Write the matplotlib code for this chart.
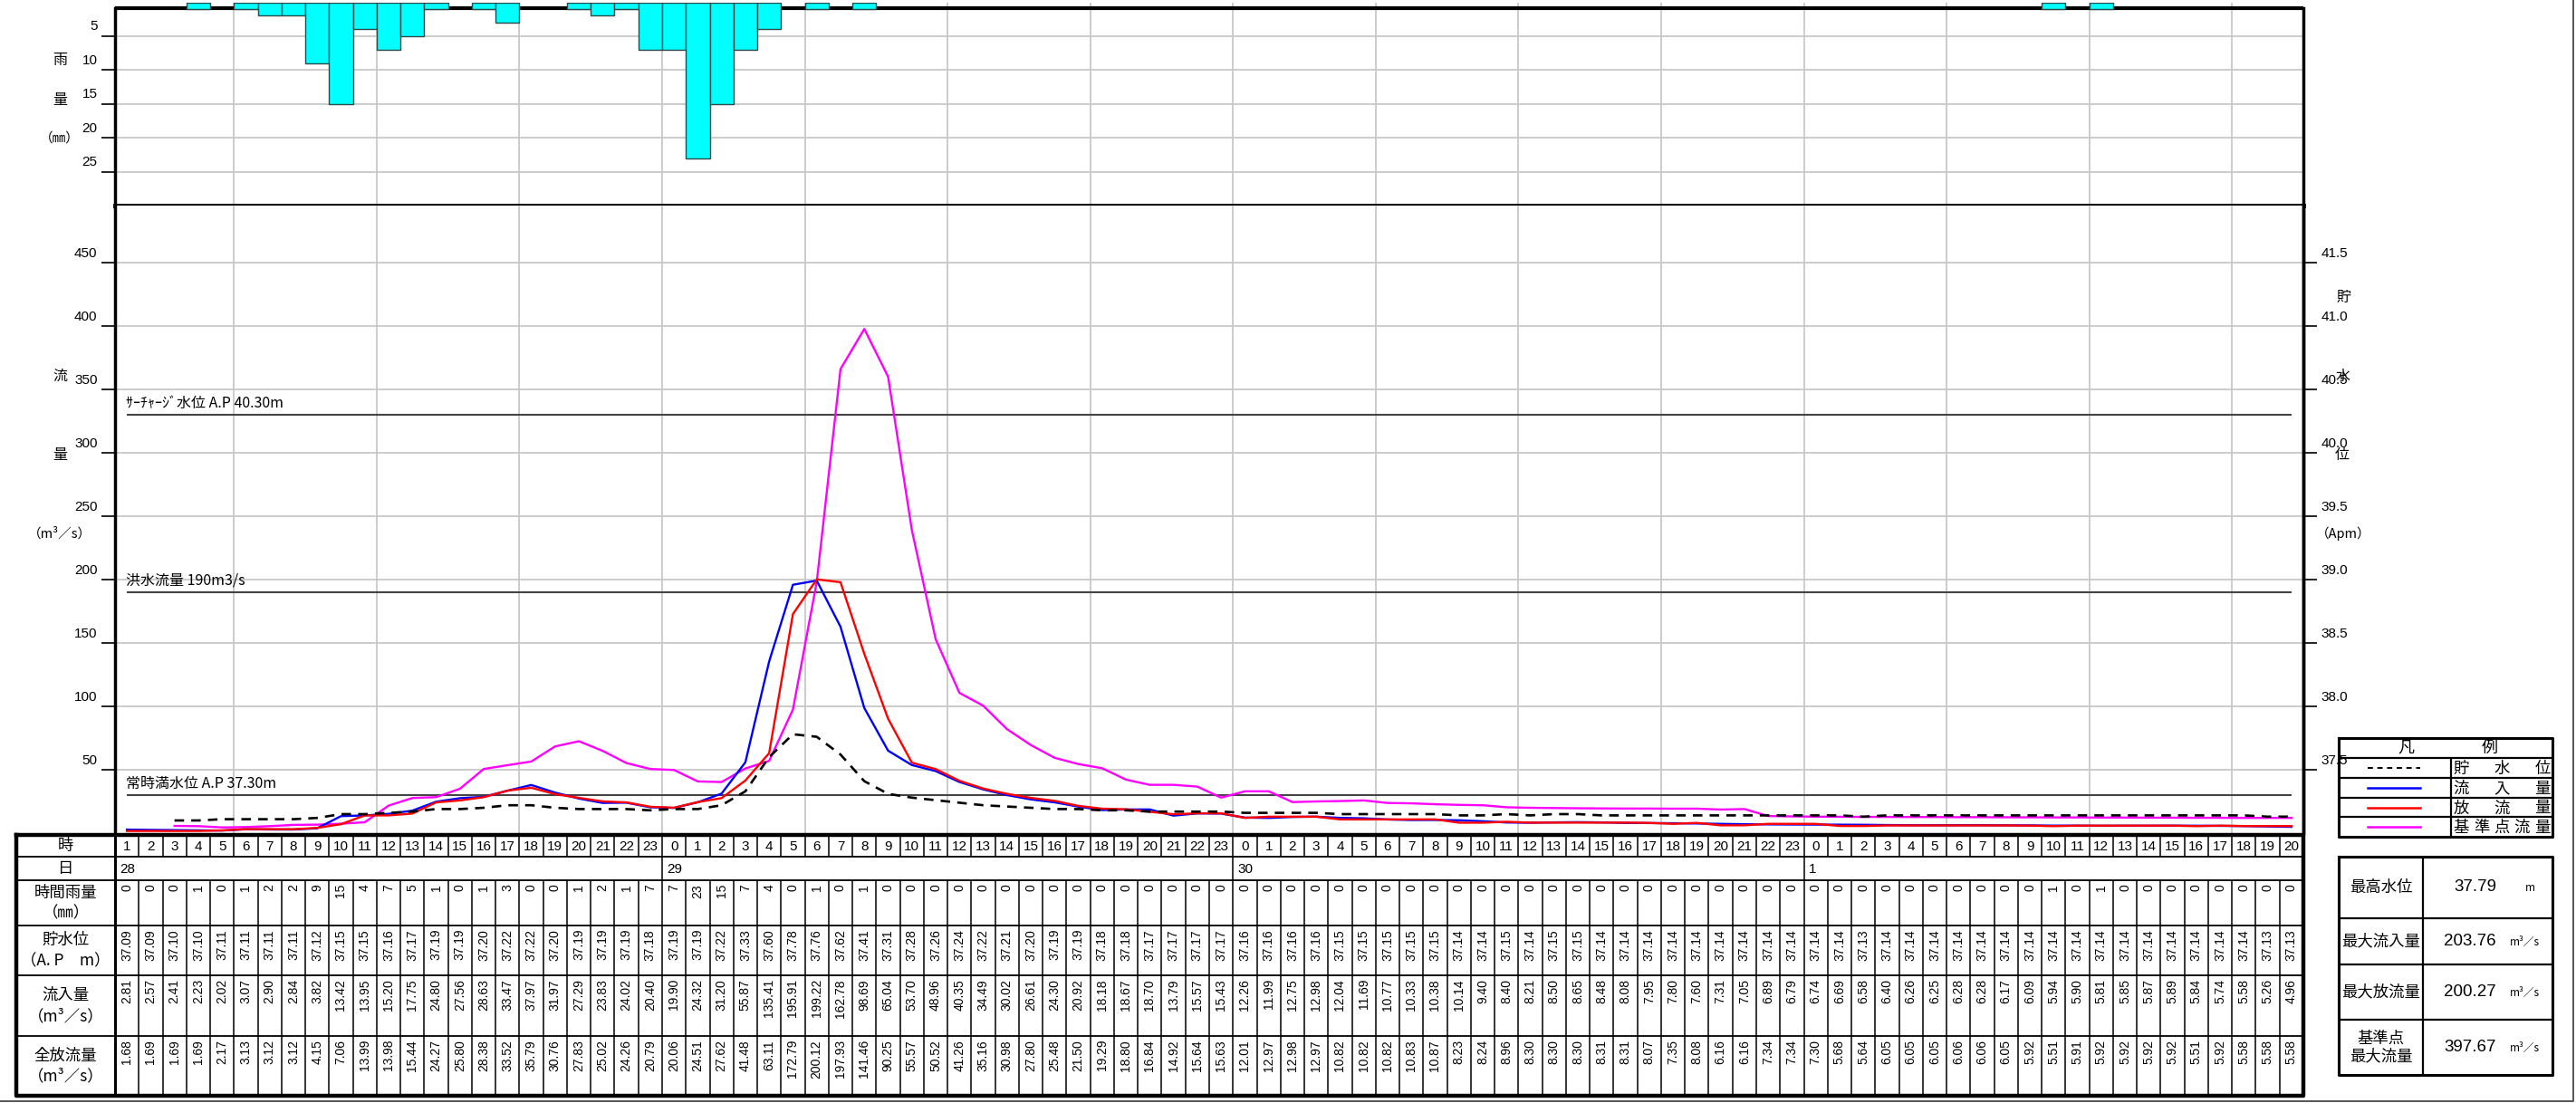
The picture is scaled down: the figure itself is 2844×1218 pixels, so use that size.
import matplotlib
matplotlib.use('Agg')
import matplotlib.pyplot as plt
import matplotlib.transforms as mtransforms
from matplotlib import font_manager
import numpy as np

# ---- data (hourly, 28th 1h .. 1st 20h) ----
hours = list(range(1, 24)) + list(range(24)) + list(range(24)) + list(range(21))
day_names = ['28', '29', '30', '1']
day_first_col = [0, 23, 47, 71]

rain = [0, 0, 0, 1, 0, 1, 2, 2, 9, 15, 4, 7, 5, 1, 0, 1, 3, 0, 0, 1, 2, 1, 7,
        7, 23, 15, 7, 4, 0, 1, 0, 1, 0, 0, 0, 0, 0, 0, 0, 0, 0, 0, 0, 0, 0, 0, 0,
        0, 0, 0, 0, 0, 0, 0, 0, 0, 0, 0, 0, 0, 0, 0, 0, 0, 0, 0, 0, 0, 0, 0, 0,
        0, 0, 0, 0, 0, 0, 0, 0, 0, 0, 1, 0, 1, 0, 0, 0, 0, 0, 0, 0, 0]

level = [37.09, 37.09, 37.10, 37.10, 37.11, 37.11, 37.11, 37.11, 37.12, 37.15, 37.15, 37.16,
         37.17, 37.19, 37.19, 37.20, 37.22, 37.22, 37.20, 37.19, 37.19, 37.19, 37.18,
         37.19, 37.19, 37.22, 37.33, 37.60, 37.78, 37.76, 37.62, 37.41, 37.31, 37.28, 37.26,
         37.24, 37.22, 37.21, 37.20, 37.19, 37.19, 37.18, 37.18, 37.17, 37.17, 37.17, 37.17,
         37.16, 37.16, 37.16, 37.16, 37.15, 37.15, 37.15, 37.15, 37.15, 37.14, 37.14, 37.15,
         37.14, 37.15, 37.15, 37.14, 37.14, 37.14, 37.14, 37.14, 37.14, 37.14, 37.14, 37.14,
         37.14, 37.14, 37.13, 37.14, 37.14, 37.14, 37.14, 37.14, 37.14, 37.14, 37.14, 37.14,
         37.14, 37.14, 37.14, 37.14, 37.14, 37.14, 37.14, 37.13, 37.13]

inflow = [2.81, 2.57, 2.41, 2.23, 2.02, 3.07, 2.90, 2.84, 3.82, 13.42, 13.95, 15.20,
          17.75, 24.80, 27.56, 28.63, 33.47, 37.97, 31.97, 27.29, 23.83, 24.02, 20.40,
          19.90, 24.32, 31.20, 55.87, 135.41, 195.91, 199.22, 162.78, 98.69, 65.04, 53.70, 48.96,
          40.35, 34.49, 30.02, 26.61, 24.30, 20.92, 18.18, 18.67, 18.70, 13.79, 15.57, 15.43,
          12.26, 11.99, 12.75, 12.98, 12.04, 11.69, 10.77, 10.33, 10.38, 10.14, 9.40, 8.40,
          8.21, 8.50, 8.65, 8.48, 8.08, 7.95, 7.80, 7.60, 7.31, 7.05, 6.89, 6.79,
          6.74, 6.69, 6.58, 6.40, 6.26, 6.25, 6.28, 6.28, 6.17, 6.09, 5.94, 5.90,
          5.81, 5.85, 5.87, 5.89, 5.84, 5.74, 5.58, 5.26, 4.96]

outflow = [1.68, 1.69, 1.69, 1.69, 2.17, 3.13, 3.12, 3.12, 4.15, 7.06, 13.99, 13.98,
           15.44, 24.27, 25.80, 28.38, 33.52, 35.79, 30.76, 27.83, 25.02, 24.26, 20.79,
           20.06, 24.51, 27.62, 41.48, 63.11, 172.79, 200.12, 197.93, 141.46, 90.25, 55.57, 50.52,
           41.26, 35.16, 30.98, 27.80, 25.48, 21.50, 19.29, 18.80, 16.84, 14.92, 15.64, 15.63,
           12.01, 12.97, 12.98, 12.97, 10.82, 10.82, 10.82, 10.83, 10.87, 8.23, 8.24, 8.96,
           8.30, 8.30, 8.30, 8.31, 8.31, 8.07, 7.35, 8.08, 6.16, 6.16, 7.34, 7.34,
           7.30, 5.68, 5.64, 6.05, 6.05, 6.05, 6.06, 6.06, 6.05, 5.92, 5.51, 5.91,
           5.92, 5.92, 5.92, 5.92, 5.51, 5.92, 5.58, 5.58, 5.58]

# 基準点流量 (read from the chart, not in the table)
base_flow = [np.nan, np.nan,
             5.7, 5.5, 4.5, 4.8, 5.5, 6.5, 6.7, 7.4, 8.6, 21.7, 27.7, 28.4, 35.0, 50.6, 53.6,
             56.5, 68.4, 72.5, 64.9, 55.3, 50.6,
             49.8, 40.8, 40.3, 51.0, 57.0, 97.5, 198.0, 366.0, 397.67, 360.0, 239.0, 153.0,
             110.6, 100.5, 82.0, 69.5, 59.4, 54.5, 51.2, 42.2, 38.1, 38.1, 36.7, 28.0,
             33.0, 33.0, 24.5, 25.0, 25.3, 25.8, 23.8, 23.5, 22.8, 22.3, 22.0, 20.4,
             20.0, 19.8, 19.6, 19.5, 19.4, 19.4, 19.3, 19.3, 18.6, 19.0, 13.5, 13.2,
             13.0, 12.9, 12.8, 12.8, 12.7, 12.7, 12.6, 12.6, 12.5, 12.5, 12.4, 12.4,
             12.3, 12.3, 12.2, 12.2, 12.1, 12.1, 12.0, 12.0, 12.0]

summary_labels = ['最高水位', '最大流入量', '最大放流量', '基準点\n最大流量']
summary_values = ['37.79', '203.76', '200.27', '397.67']
summary_units = ['m', 'm³／s', 'm³／s', 'm³／s']

legend_labels = ['貯水位', '流入量', '放流量', '基準点流量']

# ---- fonts ----
names = {f.name for f in font_manager.fontManager.ttflist}
JP = ['Noto Sans CJK JP', 'DejaVu Sans']
if 'Liberation Sans Narrow' in names:
    NARROW, nsize = ['Liberation Sans Narrow', 'DejaVu Sans'], 13
else:
    NARROW, nsize = ['Liberation Sans', 'DejaVu Sans'], 11
plt.rcParams['font.family'] = ['Liberation Sans', 'Noto Sans CJK JP', 'DejaVu Sans']

W, H = 2844, 1218
fig = plt.figure(figsize=(W / 100, H / 100), dpi=100)


def box(x0, y0, x1, y1):
    return [x0 / W, 1 - y1 / H, (x1 - x0) / W, (y1 - y0) / H]


X0, X1 = 127, 2543
n = len(hours)
xs = np.arange(n) + 0.5
grid_x = np.arange(5, n, 6)
GRID = '#c8c8c8'

# ---- rain panel ----
ax_r = fig.add_axes(box(X0, 2.5, X1, 227))
r = np.array(rain, dtype=float)
m = r > 0
ax_r.bar(xs[m], r[m], width=1.0, color='#00ffff', edgecolor='#2b4b4b', linewidth=1.0, zorder=4)
ax_r.axhline(0.9, color='black', lw=3, zorder=3)
ax_r.set_xlim(0, n)
ax_r.set_ylim(30, 0)
ax_r.set_xticks(grid_x)
ax_r.set_yticks([5, 10, 15, 20, 25])
ax_r.tick_params(axis='x', length=0, labelbottom=False)
ax_r.tick_params(axis='y', direction='out', length=11, width=1.2, pad=3)
ax_r.grid(True, color=GRID, lw=1.3)
ax_r.set_axisbelow(True)
ax_r.spines['top'].set_visible(False)
for s in ['left', 'right']:
    ax_r.spines[s].set_linewidth(2.5)
    ax_r.spines[s].set_bounds(30, 0.9)
ax_r.spines['bottom'].set_linewidth(3.5)
for lab in ax_r.get_yticklabels():
    lab.set_family(NARROW)
    lab.set_fontsize(nsize)

# ---- flow panel ----
ax_m = fig.add_axes(box(X0, 227, X1, 920))
ax_m.set_xlim(0, n)
ax_m.set_ylim(0, 495)
ax_m.set_xticks(grid_x)
ax_m.set_yticks(range(50, 451, 50))
ax_m.tick_params(axis='x', length=0, labelbottom=False)
ax_m.tick_params(axis='y', direction='out', length=11, width=1.2, pad=3)
ax_m.grid(True, color=GRID, lw=1.3)
ax_m.set_axisbelow(True)
for s in ['top', 'bottom']:
    ax_m.spines[s].set_visible(False)
for s in ['left', 'right']:
    ax_m.spines[s].set_linewidth(2.5)

ref_lines = [(330, 'ｻｰﾁｬｰｼﾞ水位 A.P 40.30m'), (190, '洪水流量 190m3/s'), (30, '常時満水位 A.P 37.30m')]
for val, txt in ref_lines:
    ax_m.hlines(val, xs[0], xs[-1], color='#444444', lw=1.5, zorder=2)
    ax_m.text(xs[0] - 0.05, val + 3, txt, ha='left', va='bottom', fontsize=11.5, family=JP)

ax_m.plot(xs, inflow, color='#0000ff', lw=1.7, zorder=4)
ax_m.plot(xs, outflow, color='#ff0000', lw=1.7, zorder=5)
ax_m.plot(xs, base_flow, color='#ff00ff', lw=1.7, zorder=3)
for lab in ax_m.get_yticklabels():
    lab.set_family(NARROW)
    lab.set_fontsize(nsize)

ax_w = ax_m.twinx()
ax_w.set_ylim(37.0, 37.0 + 4.95)
ax_w.set_yticks(np.arange(37.5, 41.51, 0.5))
ax_w.set_yticklabels(['%.1f' % v for v in np.arange(37.5, 41.51, 0.5)])
ax_w.tick_params(axis='y', direction='out', length=11, width=1.2, pad=3)
ax_w.plot(xs[2:], level[2:], color='black', lw=1.9, ls=(0, (4, 3)), zorder=6)
for s in ['top', 'bottom', 'left']:
    ax_w.spines[s].set_visible(False)
ax_w.spines['right'].set_linewidth(2.5)
for lab in ax_w.get_yticklabels():
    lab.set_family(NARROW)
    lab.set_fontsize(nsize)

# lift the tick labels above their tick marks
lift = mtransforms.ScaledTranslation(0, 0.12, fig.dpi_scale_trans)
for a in (ax_r, ax_m, ax_w):
    for lab in a.get_yticklabels():
        lab.set_transform(lab.get_transform() + lift)

# ---- data table ----
ax_t = fig.add_axes(box(X0, 921.5, X1, 1210))
rows = [921.5, 946, 972, 1022, 1077, 1144, 1210]
xl = -(X0 - 18) / ((X1 - X0) / n)
ax_t.set_xlim(0, n)
ax_t.set_ylim(rows[-1], rows[0])
ax_t.axis('off')
kw = dict(color='black', clip_on=False)
ax_t.hlines(rows[1:-1], xl, n, lw=1.3, **kw)
ax_t.vlines(np.arange(1, n), rows[0], rows[1], lw=1.1, **kw)
ax_t.vlines(np.arange(1, n), rows[2], rows[-1], lw=1.1, **kw)
ax_t.vlines(day_first_col[1:], rows[1], rows[2], lw=1.1, **kw)
ax_t.vlines(0, rows[0], rows[-1], lw=2.2, **kw)
ax_t.plot([xl, n, n, xl, xl], [rows[0], rows[0], rows[-1], rows[-1], rows[0]], lw=3.2, **kw)

row_titles = ['時', '日', '時間雨量\n（㎜）', '貯水位\n（A. P　m）', '流入量\n（m³／s）', '全放流量\n（m³／s）']
for k, t in enumerate(row_titles):
    ax_t.text(xl / 2, (rows[k] + rows[k + 1]) / 2, t, ha='center', va='center',
              fontsize=12.5, family=JP, linespacing=1.35, clip_on=False)

for i, h in enumerate(hours):
    ax_t.text(xs[i], (rows[0] + rows[1]) / 2 + 1, str(h), ha='center', va='center',
              fontsize=nsize, family=NARROW)
for c, d in zip(day_first_col, day_names):
    ax_t.text(c + 0.2, (rows[1] + rows[2]) / 2 + 1, d, ha='left', va='center',
              fontsize=nsize, family=NARROW)

table_rows = [(rain, '%d', 2), (level, '%.2f', 3), (inflow, '%.2f', 4), (outflow, '%.2f', 5)]
for vals, fmt, k in table_rows:
    for i, v in enumerate(vals):
        ax_t.text(xs[i], rows[k] + 4, fmt % v, rotation=90, ha='center', va='top', fontsize=10)

# ---- overlay: axis titles, legend, summary, page frame ----
ov = fig.add_axes([0, 0, 1, 1])
ov.set_xlim(0, W)
ov.set_ylim(H, 0)
ov.axis('off')

side_titles = [(66, 66, '雨'), (66, 110, '量'), (66, 153, '（㎜）'),
               (66, 415, '流'), (66, 502, '量'), (66, 589, '（m³／s）'),
               (2587, 328, '貯'), (2587, 415, '水'), (2586, 502, '位'), (2587, 589, '（Apm）')]
for x, y, t in side_titles:
    ov.text(x, y, t, ha='center', va='center', fontsize=11.5 if len(t) == 1 else 10.5, family=JP)

# legend box
LX0, LX1, LXM = 2582, 2818, 2706
lrows = [815, 837, 859, 881, 902, 924]
ov.plot([LX0, LX1, LX1, LX0, LX0], [lrows[0], lrows[0], lrows[-1], lrows[-1], lrows[0]], color='black', lw=2.2)
ov.hlines(lrows[1:-1], LX0, LX1, color='black', lw=1.6)
ov.vlines(LXM, lrows[1], lrows[-1], color='black', lw=1.6)
ov.text(2656, (lrows[0] + lrows[1]) / 2, '凡', ha='center', va='center', fontsize=13, family=JP)
ov.text(2749, (lrows[0] + lrows[1]) / 2, '例', ha='center', va='center', fontsize=13, family=JP)
styles = [dict(color='black', lw=1.4, ls=(0, (3, 2.5))), dict(color='#0000ff', lw=1.8),
          dict(color='#ff0000', lw=1.8), dict(color='#ff00ff', lw=1.8)]
for k, (lab, st) in enumerate(zip(legend_labels, styles)):
    yc = (lrows[k + 1] + lrows[k + 2]) / 2
    ov.plot([2614, 2672], [yc, yc], **st)
    for ch, cx in zip(lab, np.linspace(2717, 2807, len(lab))):
        ov.text(cx, yc + 1, ch, ha='center', va='center', fontsize=12.5, family=JP)

# summary box
SX0, SX1, SXM = 2582, 2818, 2675
srows = [946, 1014, 1065, 1126, 1187]
ov.plot([SX0, SX1, SX1, SX0, SX0], [srows[0], srows[0], srows[-1], srows[-1], srows[0]], color='black', lw=2.2)
ov.hlines(srows[1:-1], SX0, SX1, color='black', lw=1.6)
ov.vlines(SXM, srows[0], srows[-1], color='black', lw=1.6)
for k in range(4):
    yc = (srows[k] + srows[k + 1]) / 2
    ov.text((SX0 + SXM) / 2, yc, summary_labels[k], ha='center', va='center', fontsize=12.5,
            family=JP, linespacing=1.15)
    ov.text(2756, yc, summary_values[k], ha='right', va='center', fontsize=13.5)
    ov.text(2771 if k else 2788, yc + 1, summary_units[k], ha='left', va='center', fontsize=8.5, family=JP)

# page frame
ov.plot([2841, 2841, 0], [0, 1216, 1216], color='#555555', lw=1.4)

fig.savefig('out.png', dpi=100)
